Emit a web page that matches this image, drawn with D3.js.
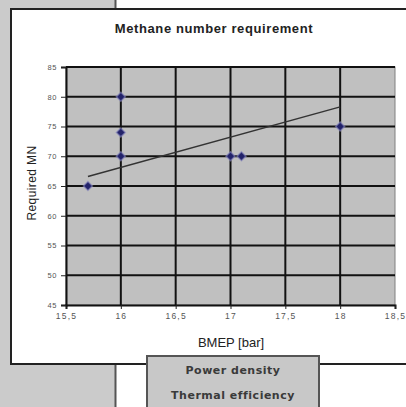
<!DOCTYPE html>
<html>
<head>
<meta charset="utf-8">
<script src="https://cdn.jsdelivr.net/npm/d3@7"></script>
<style>
  body { margin: 0; background: #fff; }
  svg { display: block; }
</style>
</head>
<body>
<svg id="chart" width="406" height="407"></svg>
<script>
// measured points (BMEP bar, required methane number)
const bmep = [15.7, 16, 16, 16, 17, 17.1, 18];
const requiredMN = [65, 70, 74, 80, 70, 70, 75];
// trend line as drawn in the original sheet
const trendX = [15.7, 18];
const trendY = [66.6, 78.3];
const xTicks = [15.5, 16, 16.5, 17, 17.5, 18, 18.5];
const yTicks = [45, 50, 55, 60, 65, 70, 75, 80, 85];
const legendItems = ["Power density", "Thermal efficiency"];

const svg = d3.select("#chart");
const W = 406, H = 407;
const plot = { left: 66, right: 395, top: 67, bottom: 305 };

// page background pieces
svg.append("rect").attr("x", 0).attr("y", 0).attr("width", 115).attr("height", H).attr("fill", "#cbcbcb");
svg.append("line").attr("x1", 115.5).attr("x2", 115.5).attr("y1", 0).attr("y2", H)
  .attr("stroke", "#555").attr("stroke-width", 2);

// chart frame
svg.append("rect").attr("x", 11).attr("y", 9).attr("width", 420).attr("height", 355)
  .attr("fill", "#fff").attr("stroke", "#222").attr("stroke-width", 2);

const x = d3.scaleLinear().domain([15.5, 18.5]).range([plot.left, plot.right]);
const y = d3.scaleLinear().domain([45, 85]).range([plot.bottom, plot.top]);

svg.append("rect").attr("x", plot.left).attr("y", plot.top)
  .attr("width", plot.right - plot.left).attr("height", plot.bottom - plot.top)
  .attr("fill", "#c0c0c0").attr("stroke", "#808080").attr("stroke-width", 1);

// gridlines
svg.append("g").selectAll("line").data(yTicks.slice(1)).join("line")
  .attr("x1", plot.left).attr("x2", plot.right)
  .attr("y1", d => y(d)).attr("y2", d => y(d))
  .attr("stroke", "#111").attr("stroke-width", 2);
svg.append("g").selectAll("line").data(xTicks.slice(1, -1)).join("line")
  .attr("y1", plot.top).attr("y2", plot.bottom)
  .attr("x1", d => x(d)).attr("x2", d => x(d))
  .attr("stroke", "#111").attr("stroke-width", 2);

const fmt = d => String(d).replace(".", ",");

const xAxis = d3.axisBottom(x).tickValues(xTicks).tickFormat(fmt).tickSize(4).tickPadding(4);
const yAxis = d3.axisLeft(y).tickValues(yTicks).tickSize(5).tickPadding(4);

svg.append("g").attr("transform", `translate(0,${plot.bottom})`).call(xAxis)
  .call(g => g.select(".domain").attr("stroke", "#111").attr("stroke-width", 2))
  .call(g => g.selectAll(".tick line").attr("stroke", "#222"))
  .call(g => g.selectAll("text").attr("font-family", "Arial, Liberation Sans, sans-serif")
    .attr("font-size", 8.5).attr("fill", "#555").attr("letter-spacing", 1.2));
svg.append("g").attr("transform", `translate(${plot.left},0)`).call(yAxis)
  .call(g => g.select(".domain").attr("stroke", "#111").attr("stroke-width", 2))
  .call(g => g.selectAll(".tick line").attr("stroke", "#222"))
  .call(g => g.selectAll("text").attr("font-family", "Arial, Liberation Sans, sans-serif")
    .attr("font-size", 7.5).attr("fill", "#555").attr("letter-spacing", 0.6));

// trend line
svg.append("path")
  .datum(trendX.map((d, i) => [d, trendY[i]]))
  .attr("d", d3.line().x(d => x(d[0])).y(d => y(d[1])))
  .attr("fill", "none").attr("stroke", "#333").attr("stroke-width", 1.5);

// markers
const diamond = d3.symbol().type(d3.symbolSquare).size(40);
svg.append("g").selectAll("path").data(bmep.map((d, i) => [d, requiredMN[i]])).join("path")
  .attr("d", diamond)
  .attr("transform", d => `translate(${x(d[0])},${y(d[1])}) rotate(45)`)
  .attr("fill", "#23236a").attr("stroke", "#8a8ac0").attr("stroke-opacity", 0.6).attr("stroke-width", 1.5);

// titles
svg.append("text").attr("x", 214).attr("y", 33).attr("text-anchor", "middle")
  .attr("font-family", "Arial, Liberation Sans, sans-serif").attr("font-size", 13)
  .attr("font-weight", "bold").attr("letter-spacing", 0.6).attr("fill", "#222").text("Methane number requirement");
svg.append("text").attr("x", 231).attr("y", 347).attr("text-anchor", "middle")
  .attr("font-family", "Arial, Liberation Sans, sans-serif").attr("font-size", 13)
  .attr("fill", "#222").text("BMEP [bar]");
svg.append("text").attr("transform", "translate(36,183) rotate(-90)").attr("text-anchor", "middle")
  .attr("font-family", "Arial, Liberation Sans, sans-serif").attr("font-size", 12)
  .attr("letter-spacing", 0.4).attr("fill", "#222").text("Required MN");

// legend box below chart
svg.append("rect").attr("x", 147).attr("y", 356).attr("width", 172).attr("height", 60)
  .attr("fill", "#c8c8c8").attr("stroke", "#555").attr("stroke-width", 2);
svg.append("g").selectAll("text").data(legendItems).join("text")
  .attr("x", 233).attr("y", (d, i) => 374 + i * 25).attr("text-anchor", "middle")
  .attr("font-family", "DejaVu Sans, sans-serif").attr("font-size", 11)
  .attr("font-weight", "bold").attr("letter-spacing", 0.5).attr("fill", "#3a3a3a").text(d => d);
</script>
</body>
</html>
